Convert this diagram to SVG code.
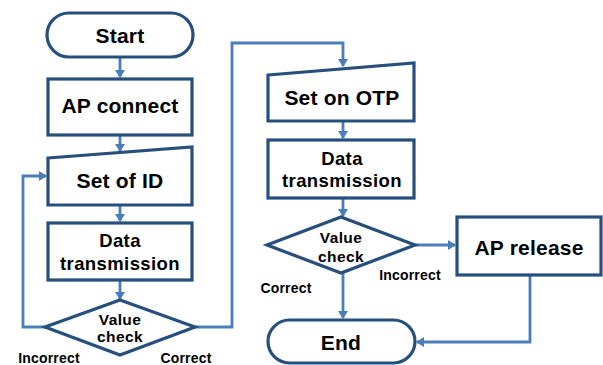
<svg xmlns="http://www.w3.org/2000/svg" width="603" height="365" viewBox="0 0 603 365">
<style>
.n{fill:#fff;stroke:#264F7E;stroke-width:3.2;stroke-linejoin:miter}
.t{font-family:"Liberation Sans",Arial,sans-serif;font-weight:bold;fill:#000;text-anchor:middle}
.big{font-size:21px;letter-spacing:0.2px}
.mid{font-size:18.5px;letter-spacing:0.4px}
.sm{font-size:15.5px;letter-spacing:0.4px}
.lb{font-size:14px;letter-spacing:0.2px}
.c{fill:none;stroke:#4A7EBB;stroke-width:2.8}
</style>
<defs>
<marker id="ah" markerWidth="10" markerHeight="10" refX="7" refY="5" orient="auto" markerUnits="userSpaceOnUse">
<path d="M0,0 L8,5 L0,10 Z" fill="#4A7EBB"/>
</marker>
</defs>
<g id="connectors">
<path class="c" d="M120,57 V77" marker-end="url(#ah)"/>
<path class="c" d="M120,135 V151" marker-end="url(#ah)"/>
<path class="c" d="M120,205 V221" marker-end="url(#ah)"/>
<path class="c" d="M120,280 V299" marker-end="url(#ah)"/>
<path class="c" d="M45,327 H23 V176 H46" marker-end="url(#ah)"/>
<path class="c" d="M195,327 H232 V43 H343 V66" marker-end="url(#ah)"/>
<path class="c" d="M343,121 V138" marker-end="url(#ah)"/>
<path class="c" d="M343,198 V216" marker-end="url(#ah)"/>
<path class="c" d="M415,245 H455" marker-end="url(#ah)"/>
<path class="c" d="M343,273 V318" marker-end="url(#ah)"/>
<path class="c" d="M530,275 V342 H417" marker-end="url(#ah)"/>
</g>
<g id="start">
<rect class="n" x="47" y="13" width="146" height="44" rx="22"/>
<text class="t big" x="120" y="43">Start</text>
</g>
<g id="ap-connect">
<rect class="n" x="48" y="79" width="144" height="56"/>
<text class="t big" x="120" y="113">AP connect</text>
</g>
<g id="set-of-id">
<path class="n" d="M48,158 L192,147 V205 H48 Z"/>
<text class="t big" x="120" y="188">Set of ID</text>
</g>
<g id="data-1">
<rect class="n" x="48" y="223" width="144" height="57"/>
<text class="t mid" x="120" y="247">Data</text>
<text class="t mid" x="120" y="270">transmission</text>
</g>
<g id="check-1">
<path class="n" d="M120,300 L195,327 L120,355 L45,327 Z"/>
<text class="t sm" x="120" y="325">Value</text>
<text class="t sm" x="120" y="342">check</text>
</g>
<g id="set-on-otp">
<path class="n" d="M268,75 L414,63 V121 H268 Z"/>
<text class="t big" x="342" y="105">Set on OTP</text>
</g>
<g id="data-2">
<rect class="n" x="268" y="140" width="146" height="58"/>
<text class="t mid" x="342" y="165">Data</text>
<text class="t mid" x="342" y="187">transmission</text>
</g>
<g id="check-2">
<path class="n" d="M341,217 L415,245 L341,273 L267,245 Z"/>
<text class="t sm" x="341" y="243">Value</text>
<text class="t sm" x="341" y="262">check</text>
</g>
<g id="ap-release">
<rect class="n" x="457" y="217" width="144" height="58"/>
<text class="t big" x="529" y="255">AP release</text>
</g>
<g id="end">
<rect class="n" x="268" y="320" width="147" height="43" rx="21.5"/>
<text class="t big" x="341" y="350">End</text>
</g>
<g id="labels">
<text class="t lb" x="49" y="363">Incorrect</text>
<text class="t lb" x="186" y="363">Correct</text>
<text class="t lb" x="410" y="280">Incorrect</text>
<text class="t lb" x="286" y="293">Correct</text>
</g>
</svg>
